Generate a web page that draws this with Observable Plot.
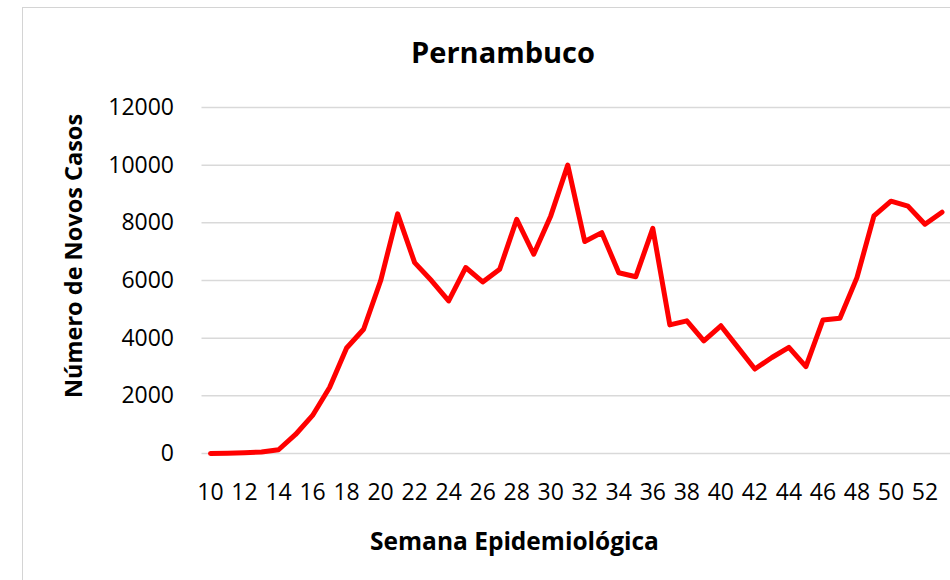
<!DOCTYPE html>
<html>
<head>
<meta charset="utf-8">
<script src="https://cdn.jsdelivr.net/npm/d3@7"></script>
<script src="https://cdn.jsdelivr.net/npm/@observablehq/plot@0.6"></script>
<style>
  html, body { margin: 0; padding: 0; background: #fff; width: 950px; height: 580px; overflow: hidden; }
  #wrap { position: relative; width: 950px; height: 580px; font-family: "Open Sans", sans-serif; }
  #frame { position: absolute; left: 22px; top: 7px; width: 1000px; height: 700px; border: 1.5px solid #d4d4d4; box-sizing: border-box; }
  #chart { position: absolute; left: 0; top: 0; }
  .t { position: absolute; font-weight: bold; color: #000; white-space: nowrap; line-height: 1; }
  #title { left: 503px; top: 51px; transform: translate(-50%, -50%); font-size: 29px; }
  #xtitle { left: 514.5px; top: 540.5px; transform: translate(-50%, -50%); font-size: 24.5px; }
  #ytitle { left: 74px; top: 256px; transform: translate(-50%, -50%) rotate(-90deg); font-size: 23.5px; }
</style>
</head>
<body>
<div id="wrap">
  <div id="frame"></div>
  <div id="chart"></div>
  <div class="t" id="title">Pernambuco</div>
  <div class="t" id="ytitle">Número de Novos Casos</div>
  <div class="t" id="xtitle">Semana Epidemiológica</div>
</div>
<script>
const weeks = [10,11,12,13,14,15,16,17,18,19,20,21,22,23,24,25,26,27,28,29,30,31,32,33,34,35,36,37,38,39,40,41,42,43,44,45,46,47,48,49,50,51,52,53];
const cases = [0,10,30,50,130,660,1320,2290,3660,4310,5990,8310,6620,5990,5290,6450,5950,6390,8120,6910,8240,10000,7350,7660,6270,6130,7810,4460,4600,3910,4430,3680,2930,3330,3680,3010,4630,4690,6100,8240,8750,8580,7950,8370];
const xTicks = [10,12,14,16,18,20,22,24,26,28,30,32,34,36,38,40,42,44,46,48,50,52];
const yTicks = [0,2000,4000,6000,8000,10000,12000];

const data = weeks.map((w, i) => ({week: w, value: cases[i]}));

const chart = Plot.plot({
  width: 950,
  height: 580,
  marginLeft: 201.5,
  marginRight: 0,
  marginTop: 107,
  marginBottom: 127,
  style: {background: "transparent", fontFamily: "Open Sans, sans-serif", color: "#000", overflow: "visible"},
  x: {domain: [9.5, 53.5]},
  y: {domain: [0, 12000]},
  marks: [
    Plot.gridY(yTicks, {stroke: "#d9d9d9", strokeOpacity: 1, strokeWidth: 1.5}),
    Plot.axisY(yTicks, {tickSize: 0, tickPadding: 28, fontSize: 23, label: null, tickFormat: d => String(d)}),
    Plot.axisX(xTicks, {tickSize: 0, tickPadding: 30, fontSize: 23, label: null, tickFormat: d => String(d)}),
    Plot.line(data, {x: "week", y: "value", stroke: "#ff0000", strokeWidth: 5, strokeLinejoin: "round", strokeLinecap: "round"})
  ]
});
document.getElementById("chart").appendChild(chart);
</script>
</body>
</html>
